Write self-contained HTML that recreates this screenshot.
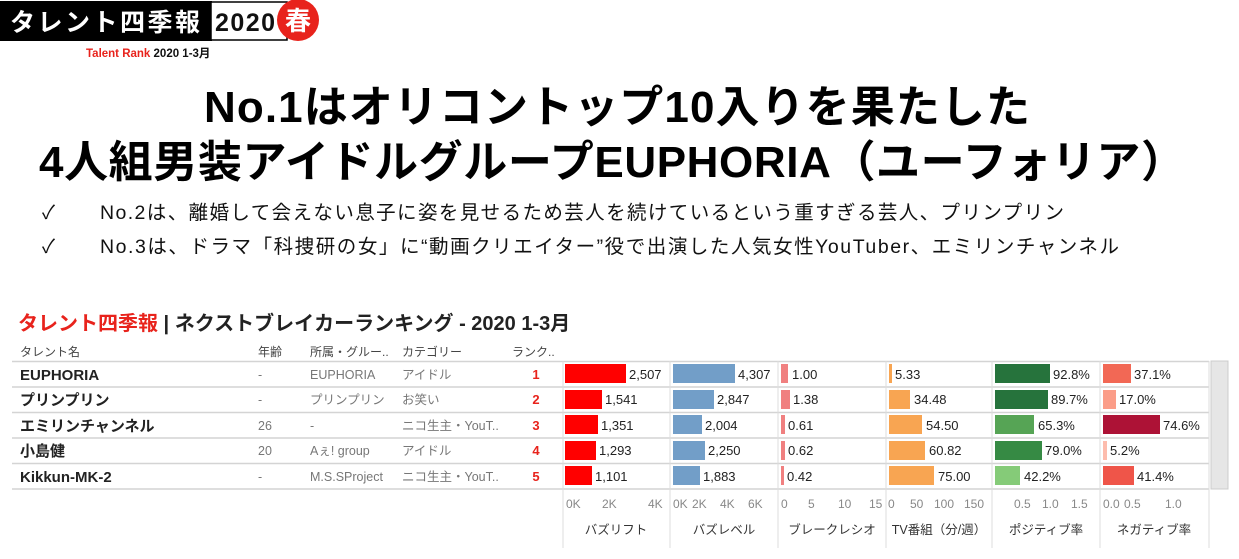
<!DOCTYPE html>
<html><head><meta charset="utf-8"><style>
html,body{margin:0;padding:0;background:#fff;}
svg{display:block;font-family:"Liberation Sans","Noto Sans CJK JP",sans-serif;}
</style></head><body>
<svg width="1239" height="559" viewBox="0 0 1239 559" xmlns="http://www.w3.org/2000/svg">
<!-- logo -->
<rect x="0" y="1" width="212" height="40" fill="#000"/>
<text x="10" y="31" font-size="25" fill="#fff" font-weight="bold" textLength="190" font-family="Noto Sans CJK JP, sans-serif">タレント四季報</text>
<rect x="211" y="2" width="76" height="38" fill="#fff" stroke="#000" stroke-width="1.5"/>
<text x="215" y="31" font-size="25" font-weight="bold" fill="#111" textLength="60">2020</text>
<circle cx="298" cy="20" r="21" fill="#e8231c"/>
<text x="298" y="30" font-size="26" font-weight="bold" fill="#fff" text-anchor="middle" font-family="Noto Sans CJK JP, sans-serif">春</text>
<text x="86" y="57" font-size="11.5" font-weight="bold" fill="#e8231c">Talent Rank <tspan fill="#111">2020 1-3月</tspan></text>

<!-- headline -->
<text x="617" y="122" font-size="44" font-weight="bold" fill="#000" text-anchor="middle" textLength="826">No.1はオリコントップ10入りを果たした</text>
<text x="612" y="177" font-size="44" font-weight="bold" fill="#000" text-anchor="middle" textLength="1146">4人組男装アイドルグループEUPHORIA（ユーフォリア）</text>

<text x="42" y="219" font-size="19" fill="#111">✓</text>
<text x="100" y="219" font-size="19.5" fill="#111" textLength="964">No.2は、離婚して会えない息子に姿を見せるため芸人を続けているという重すぎる芸人、プリンプリン</text>
<text x="42" y="253" font-size="19" fill="#111">✓</text>
<text x="100" y="253" font-size="19.5" fill="#111" textLength="1019">No.3は、ドラマ「科捜研の女」に“動画クリエイター”役で出演した人気女性YouTuber、エミリンチャンネル</text>

<!-- chart title -->
<text x="18" y="330" font-size="20" font-weight="bold" fill="#222"><tspan fill="#e8231c">タレント四季報</tspan> | ネクストブレイカーランキング - 2020 1-3月</text>

<!-- column headers -->
<g font-size="12" fill="#444">
<text x="20" y="356">タレント名</text>
<text x="258" y="356">年齢</text>
<text x="310" y="356">所属・グルー..</text>
<text x="402" y="356">カテゴリー</text>
<text x="512" y="356">ランク..</text>
</g>

<!-- scrollbar -->
<rect x="1211" y="361" width="17" height="128" fill="#e6e6e6" stroke="#ccc"/>

<!-- row lines -->
<g stroke="#d4d4d4" stroke-width="1.5">
<line x1="12" y1="361.5" x2="1209" y2="361.5"/>
<line x1="12" y1="387" x2="1209" y2="387"/>
<line x1="12" y1="412.5" x2="1209" y2="412.5"/>
<line x1="12" y1="438" x2="1209" y2="438"/>
<line x1="12" y1="463.5" x2="1209" y2="463.5"/>
<line x1="12" y1="489" x2="1209" y2="489"/>
</g>
<g stroke="#ddd" stroke-width="1">
<line x1="563" y1="361" x2="563" y2="548"/>
<line x1="670" y1="361" x2="670" y2="548"/>
<line x1="778" y1="361" x2="778" y2="548"/>
<line x1="886" y1="361" x2="886" y2="548"/>
<line x1="992" y1="361" x2="992" y2="548"/>
<line x1="1100" y1="361" x2="1100" y2="548"/>
<line x1="1209" y1="361" x2="1209" y2="548"/>
</g>

<!-- table rows -->
<g font-size="15" font-weight="bold" fill="#222">
<text x="20" y="380">EUPHORIA</text>
<text x="20" y="405">プリンプリン</text>
<text x="20" y="431">エミリンチャンネル</text>
<text x="20" y="456">小島健</text>
<text x="20" y="482">Kikkun-MK-2</text>
</g>
<g font-size="12.5" fill="#777">
<text x="258" y="379">-</text><text x="258" y="404">-</text><text x="258" y="430">26</text><text x="258" y="455">20</text><text x="258" y="481">-</text>
<text x="310" y="379">EUPHORIA</text><text x="310" y="404">プリンプリン</text><text x="310" y="430">-</text><text x="310" y="455">Aぇ! group</text><text x="310" y="481">M.S.SProject</text>
<text x="402" y="379">アイドル</text><text x="402" y="404">お笑い</text><text x="402" y="430">ニコ生主・YouT..</text><text x="402" y="455">アイドル</text><text x="402" y="481">ニコ生主・YouT..</text>
</g>
<g font-size="13" font-weight="bold" fill="#e8231c" text-anchor="middle">
<text x="536" y="379">1</text><text x="536" y="404">2</text><text x="536" y="430">3</text><text x="536" y="455">4</text><text x="536" y="481">5</text>
</g>

<!-- bars -->
<g>
<rect x="565" y="364" width="61" height="19" fill="#ff0000"/>
<rect x="565" y="390" width="37" height="19" fill="#ff0000"/>
<rect x="565" y="415" width="33" height="19" fill="#ff0000"/>
<rect x="565" y="441" width="31" height="19" fill="#ff0000"/>
<rect x="565" y="466" width="27" height="19" fill="#ff0000"/>

<rect x="673" y="364" width="62" height="19" fill="#729ec8"/>
<rect x="673" y="390" width="41" height="19" fill="#729ec8"/>
<rect x="673" y="415" width="29" height="19" fill="#729ec8"/>
<rect x="673" y="441" width="32" height="19" fill="#729ec8"/>
<rect x="673" y="466" width="27" height="19" fill="#729ec8"/>

<rect x="781" y="364" width="7" height="19" fill="#f08080"/>
<rect x="781" y="390" width="9" height="19" fill="#f08080"/>
<rect x="781" y="415" width="4" height="19" fill="#f08080"/>
<rect x="781" y="441" width="4" height="19" fill="#f08080"/>
<rect x="781" y="466" width="3" height="19" fill="#f08080"/>

<rect x="889" y="364" width="3" height="19" fill="#f8a552"/>
<rect x="889" y="390" width="21" height="19" fill="#f8a552"/>
<rect x="889" y="415" width="33" height="19" fill="#f8a552"/>
<rect x="889" y="441" width="36" height="19" fill="#f8a552"/>
<rect x="889" y="466" width="45" height="19" fill="#f8a552"/>

<rect x="995" y="364" width="55" height="19" fill="#26733c"/>
<rect x="995" y="390" width="53" height="19" fill="#26733c"/>
<rect x="995" y="415" width="39" height="19" fill="#56a455"/>
<rect x="995" y="441" width="47" height="19" fill="#368a44"/>
<rect x="995" y="466" width="25" height="19" fill="#85cb78"/>

<rect x="1103" y="364" width="28" height="19" fill="#f26855"/>
<rect x="1103" y="390" width="13" height="19" fill="#fb9d88"/>
<rect x="1103" y="415" width="57" height="19" fill="#ad1236"/>
<rect x="1103" y="441" width="4" height="19" fill="#fdbcad"/>
<rect x="1103" y="466" width="31" height="19" fill="#ef5549"/>
</g>

<!-- values -->
<g font-size="13" fill="#222">
<text x="629" y="379">2,507</text><text x="605" y="404">1,541</text><text x="601" y="430">1,351</text><text x="599" y="455">1,293</text><text x="595" y="481">1,101</text>
<text x="738" y="379">4,307</text><text x="717" y="404">2,847</text><text x="705" y="430">2,004</text><text x="708" y="455">2,250</text><text x="703" y="481">1,883</text>
<text x="792" y="379">1.00</text><text x="793" y="404">1.38</text><text x="788" y="430">0.61</text><text x="788" y="455">0.62</text><text x="787" y="481">0.42</text>
<text x="895" y="379">5.33</text><text x="914" y="404">34.48</text><text x="926" y="430">54.50</text><text x="929" y="455">60.82</text><text x="938" y="481">75.00</text>
<text x="1053" y="379">92.8%</text><text x="1051" y="404">89.7%</text><text x="1038" y="430">65.3%</text><text x="1045" y="455">79.0%</text><text x="1024" y="481">42.2%</text>
<text x="1134" y="379">37.1%</text><text x="1119" y="404">17.0%</text><text x="1163" y="430">74.6%</text><text x="1110" y="455">5.2%</text><text x="1137" y="481">41.4%</text>
</g>

<!-- axis ticks -->
<g font-size="12" fill="#888">
<text x="566" y="508">0K</text><text x="602" y="508">2K</text><text x="648" y="508">4K</text>
<text x="673" y="508">0K</text><text x="692" y="508">2K</text><text x="720" y="508">4K</text><text x="748" y="508">6K</text>
<text x="781" y="508">0</text><text x="808" y="508">5</text><text x="838" y="508">10</text><text x="869" y="508">15</text>
<text x="888" y="508">0</text><text x="910" y="508">50</text><text x="934" y="508">100</text><text x="964" y="508">150</text>
<text x="1014" y="508">0.5</text><text x="1042" y="508">1.0</text><text x="1071" y="508">1.5</text>
<text x="1103" y="508">0.0</text><text x="1124" y="508">0.5</text><text x="1165" y="508">1.0</text>
</g>
<g font-size="12.5" fill="#333" text-anchor="middle">
<text x="616" y="534">バズリフト</text>
<text x="724" y="534">バズレベル</text>
<text x="832" y="534">ブレークレシオ</text>
<text x="939" y="534">TV番組（分/週）</text>
<text x="1046" y="534">ポジティブ率</text>
<text x="1154" y="534">ネガティブ率</text>
</g>
</svg>
</body></html>
